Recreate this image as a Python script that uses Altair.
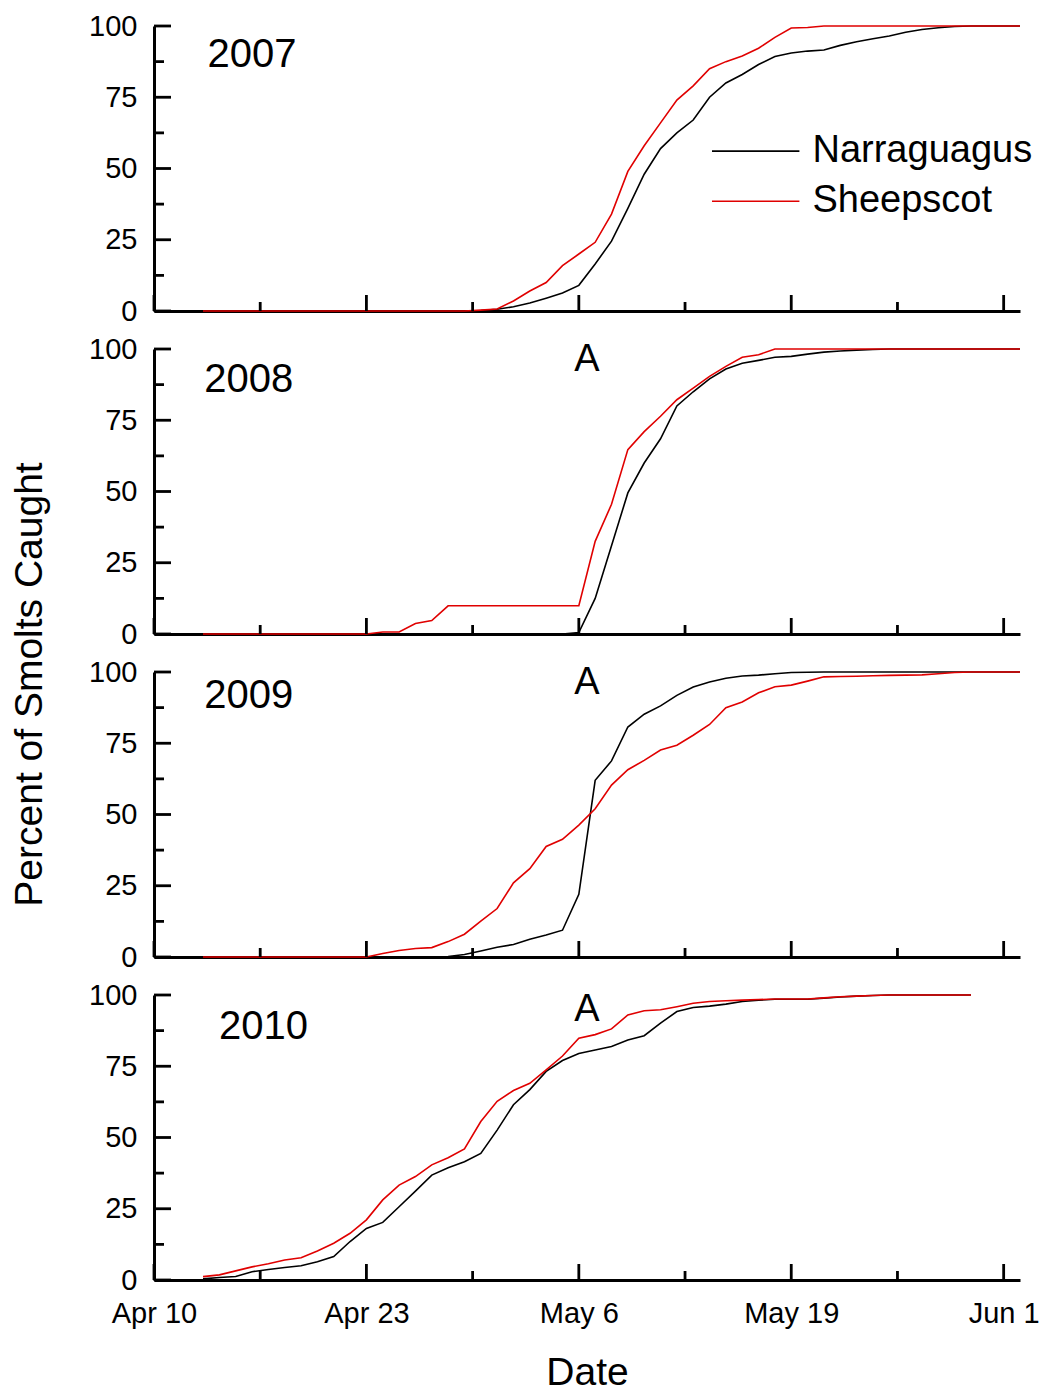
import altair as alt
import pandas as pd

# ---------------- data ----------------
years = ["2007", "2008", "2009", "2010"]
rivers = ["Narraguagus", "Sheepscot"]
river_colors = ["#000000", "#e00000"]

date_labels = ["Apr 10", "Apr 23", "May 6", "May 19", "Jun 1"]
date_days = [0, 13, 26, 39, 52]          # days after Apr 10
minor_days = [6.5, 19.5, 32.5, 45.5]
pct_major = [0, 25, 50, 75, 100]
pct_minor = [12.5, 37.5, 62.5, 87.5]

first_day = 3  # Apr 13: first sampling day in every year

narr_2007 = [0, 0, 0, 0, 0, 0, 0, 0, 0, 0, 0, 0, 0, 0, 0, 0, 0,
             0.2, 0.6, 1.5, 2.8, 4.5, 6.3, 9.0, 16.5, 24.5, 36, 48, 57, 62.5, 67, 75, 80, 83,
             86.5, 89.3, 90.5, 91.2, 91.6, 93.2, 94.5, 95.5, 96.5, 97.8, 98.8, 99.4, 99.8,
             100, 100, 100, 100]
sheep_2007 = [0, 0, 0, 0, 0, 0, 0, 0, 0, 0, 0, 0, 0, 0, 0, 0, 0,
              0.3, 0.7, 3.5, 7, 10, 15.9, 20, 24.1, 34, 49, 58, 66, 74, 79, 85, 87.5, 89.5,
              92.2, 96, 99.3, 99.5, 100, 100, 100, 100, 100, 100, 100, 100, 100, 100, 100,
              100, 100]
narr_2008 = [0, 0, 0, 0, 0, 0, 0, 0, 0, 0, 0, 0, 0, 0, 0, 0, 0, 0, 0, 0, 0, 0, 0,
             0.5, 12.5, 31, 49.5, 60, 68.5, 80, 85, 89.5, 93, 95, 96, 97.1, 97.4, 98.2,
             98.9, 99.3, 99.6, 99.8, 100, 100, 100, 100, 100, 100, 100, 100, 100]
sheep_2008 = [0, 0, 0, 0, 0, 0, 0, 0, 0, 0, 0,
              0.7, 0.7, 3.7, 4.7, 9.9, 9.9, 9.9, 9.9, 9.9, 9.9, 9.9, 9.9, 9.9,
              32.5, 45.5, 64.7, 71, 76.4, 82.2, 86.3, 90.4, 93.9, 97.1, 98,
              100, 100, 100, 100, 100, 100, 100, 100, 100, 100, 100, 100, 100, 100, 100, 100]
narr_2009 = [0, 0, 0, 0, 0, 0, 0, 0, 0, 0, 0, 0, 0, 0, 0,
             0.2, 0.9, 2.1, 3.4, 4.4, 6.2, 7.7, 9.4, 22, 62, 68.8, 80.7, 85.2, 88.1, 91.8,
             94.7, 96.5, 97.8, 98.6, 98.9, 99.4, 99.8, 99.9,
             100, 100, 100, 100, 100, 100, 100, 100, 100, 100, 100, 100, 100]
sheep_2009 = [0, 0, 0, 0, 0, 0, 0, 0, 0, 0, 0,
              1.2, 2.3, 3.0, 3.3, 5.4, 8.0, 12.6, 17, 26, 31, 38.8, 41.3, 46.3, 52, 60.3,
              65.7, 69, 72.6, 74.3, 77.8, 81.6, 87.5, 89.5, 92.7, 94.8, 95.4, 96.8, 98.3,
              98.4, 98.5, 98.7, 98.8, 98.9, 99.0, 99.4, 99.8, 100, 100, 100, 100]
narr_2010 = [0.4, 0.9, 1.2, 2.9, 3.7, 4.4, 5.0, 6.4, 8.2, 13.5, 18.1, 20.2, 25.7, 31.2,
             36.8, 39.4, 41.5, 44.4, 52.6, 61.5, 66.8, 73.2, 77, 79.5, 80.7, 81.9, 84.2,
             85.7, 90.1, 94.2, 95.6, 96.1, 96.8, 97.7, 98.2, 98.5, 98.5, 98.5, 98.9, 99.3,
             99.6, 99.8, 100, 100, 100, 100, 100, 100]
sheep_2010 = [1.2, 1.8, 3.2, 4.6, 5.7, 7.0, 7.8, 10.2, 12.9, 16.4, 21.1, 28.1, 33.3, 36.3,
              40.4, 42.9, 46.0, 55.6, 62.7, 66.5, 69, 73.7, 78.6, 84.8, 86.1, 88.1, 93,
              94.5, 94.8, 95.9, 97.1, 97.7, 98.0, 98.2, 98.4, 98.6, 98.6, 98.6, 99.0, 99.4,
              99.6, 99.8, 100, 100, 100, 100, 100, 100]

series = {
    ("2007", "Narraguagus"): narr_2007, ("2007", "Sheepscot"): sheep_2007,
    ("2008", "Narraguagus"): narr_2008, ("2008", "Sheepscot"): sheep_2008,
    ("2009", "Narraguagus"): narr_2009, ("2009", "Sheepscot"): sheep_2009,
    ("2010", "Narraguagus"): narr_2010, ("2010", "Sheepscot"): sheep_2010,
}

rows = []
for (yr, rv), vals in series.items():
    for i, v in enumerate(vals):
        rows.append({"year": yr, "river": rv, "day": first_day + i, "pct": v})
data = pd.DataFrame(rows)

# ---------------- styling / layout ----------------
FONT = "Liberation Sans"
W, H = 866, 285
xs = alt.Scale(domain=[0, 53], nice=False, zero=False)
ys = alt.Scale(domain=[0, 100], nice=False, zero=False)
cs = alt.Scale(domain=rivers, range=river_colors)

label_expr = "({" + ",".join(f"'{d}':'{l}'" for d, l in zip(date_days, date_labels)) + "})[datum.value]"

# annotation placements (data coordinates)
year_pos = {"2007": (6.0, 89.8), "2008": (5.8, 89.1), "2009": (5.8, 91.6), "2010": (6.7, 88.8)}
a_pos = {"2008": (26.5, 96.2), "2009": (26.5, 96.2), "2010": (26.5, 94.7)}


def panel(yr, idx):
    last = idx == len(years) - 1
    if last:
        x_axis = alt.Axis(values=date_days, labelExpr=label_expr, ticks=False, tickSize=0,
                          grid=False, title="Date", labelPadding=19, titlePadding=25,
                          labelFlush=False, labelFontSize=29, titleFontSize=39)
    else:
        x_axis = alt.Axis(values=date_days, labels=False, ticks=False, tickSize=0,
                          grid=False, title="")
    if idx == 1:
        y_axis = alt.Axis(values=pct_major, ticks=False, tickSize=0, grid=False,
                          labelPadding=17, title="Percent of Smolts Caught",
                          titleFontSize=39, titleAngle=270, titleX=-113, titleY=335,
                          titleAlign="center", titleBaseline="alphabetic")
    else:
        y_axis = alt.Axis(values=pct_major, ticks=False, tickSize=0, grid=False,
                          labelPadding=17, title="")

    X = lambda f: alt.X(f, scale=xs, axis=x_axis)
    Y = lambda f: alt.Y(f, scale=ys, axis=y_axis)

    d = data[data["year"] == yr]
    lines = alt.Chart(d).mark_line(strokeWidth=1.6).encode(
        x=X("day:Q"), y=Y("pct:Q"),
        color=alt.Color("river:N", scale=cs, legend=None),
    )

    def xticks(vals, length):
        return alt.Chart(pd.DataFrame({"day": vals})).mark_rule(color="black", strokeWidth=2.8).encode(
            x=X("day:Q"), y=alt.value(H), y2=alt.value(H - length))

    def yticks(vals, length):
        return alt.Chart(pd.DataFrame({"pct": vals})).mark_rule(color="black", strokeWidth=2.8).encode(
            y=Y("pct:Q"), x=alt.value(0), x2=alt.value(length))

    layers = [lines, xticks(date_days, 16), xticks(minor_days, 9),
              yticks(pct_major, 17), yticks(pct_minor, 10)]

    yx, yy = year_pos[yr]
    layers.append(alt.Chart(pd.DataFrame({"day": [yx], "pct": [yy], "t": [yr]})).mark_text(
        font=FONT, fontSize=40, color="black", align="center", baseline="middle").encode(
        x=X("day:Q"), y=Y("pct:Q"), text="t:N"))

    if yr in a_pos:
        ax, ay = a_pos[yr]
        layers.append(alt.Chart(pd.DataFrame({"day": [ax], "pct": [ay], "t": ["A"]})).mark_text(
            font=FONT, fontSize=38, color="black", align="center", baseline="middle").encode(
            x=X("day:Q"), y=Y("pct:Q"), text="t:N"))

    if idx == 0:
        leg = pd.DataFrame({"river": rivers, "day": [34.15, 34.15], "day2": [39.5, 39.5],
                            "tx": [40.3, 40.3], "pct": [56.1, 38.5]})
        layers.append(alt.Chart(leg).mark_rule(strokeWidth=1.6).encode(
            x=X("day:Q"), x2="day2:Q", y=Y("pct:Q"),
            color=alt.Color("river:N", scale=cs, legend=None)))
        layers.append(alt.Chart(leg).mark_text(
            font=FONT, fontSize=38, color="black", align="left", baseline="middle").encode(
            x=X("tx:Q"), y=Y("pct:Q"), text="river:N"))

    return alt.layer(*layers).properties(width=W, height=H)


chart = alt.vconcat(*[panel(y, i) for i, y in enumerate(years)], spacing=38, bounds="flush")
chart = chart.properties(padding={"left": 10, "top": 12, "right": 5, "bottom": 5}).configure(
    background="white", font=FONT
).configure_view(strokeWidth=0).configure_axis(
    labelFont=FONT, titleFont=FONT, labelFontSize=29, labelColor="black", titleColor="black",
    domainColor="black", domainWidth=3, titleFontWeight="normal"
)

chart.save("out.html", embed_options={"renderer": "svg", "actions": False})
